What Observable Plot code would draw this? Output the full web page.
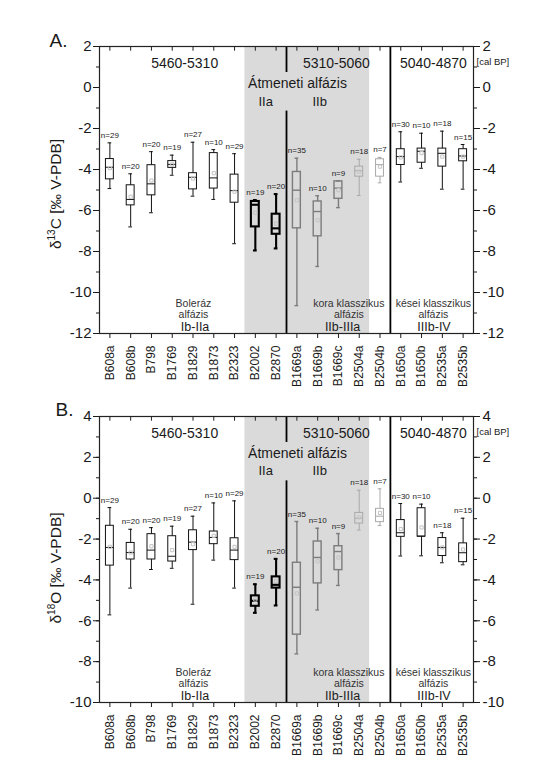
<!DOCTYPE html>
<html>
<head>
<meta charset="utf-8">
<script src="https://cdn.jsdelivr.net/npm/d3@7"></script>
<script src="https://cdn.jsdelivr.net/npm/@observablehq/plot@0.6"></script>
<style>
  body { margin: 0; background: #fff; }
  #chart { position: relative; width: 551px; height: 768px; background: #fff; }
  #chart svg { display: block; }
</style>
</head>
<body>
<div id="chart"></div>
<script>
// ---------------- DATA ----------------
const samples = ["B608a","B608b","B798","B1769","B1829","B1873","B2323","B2002","B2870",
                 "B1669a","B1669b","B1669c","B2504a","B2504b","B1650a","B1650b","B2535a","B2535b"];
const phaseGroup = ["Boleráz","Boleráz","Boleráz","Boleráz","Boleráz","Boleráz","Boleráz",
                    "IIa","IIa","IIb","IIb","IIb","kora","kora","kései","kései","kései","kései"];
const nValues = [29,20,20,19,27,10,29,19,20,35,10,9,18,7,30,10,18,15];

// δ13C (panel A)
const c13High   = [-2.70,-4.21,-3.13,-3.30,-2.67,-3.03,-3.23,-5.49,-5.20,-3.45,-5.28,-4.56,-3.50,-3.41,-2.16,-2.23,-2.13,-2.78];
const c13Q3     = [-3.49,-4.77,-3.79,-3.59,-4.18,-3.20,-4.25,-5.56,-6.18,-4.12,-5.56,-4.58,-3.86,-3.50,-3.01,-2.98,-2.98,-3.01];
const c13Median = [-3.89,-5.46,-4.70,-3.75,-4.38,-4.41,-5.03,-5.72,-6.87,-5.01,-6.05,-4.91,-4.06,-3.76,-3.37,-3.11,-3.21,-3.34];
const c13Q1     = [-4.48,-5.75,-5.26,-3.92,-4.97,-4.93,-5.62,-6.80,-7.16,-6.87,-7.26,-5.43,-4.35,-4.35,-3.78,-3.67,-3.86,-3.60];
const c13Low    = [-4.93,-6.80,-6.11,-4.28,-5.30,-5.46,-7.62,-7.95,-7.85,-10.64,-8.73,-5.86,-5.27,-4.65,-4.61,-3.94,-4.96,-4.96];
const c13Mean   = [-3.93,-5.33,-4.54,-3.75,-4.44,-4.18,-5.08,-6.11,-6.64,-5.50,-6.48,-5.01,-4.10,-3.86,-3.41,-3.20,-3.37,-3.37];

// δ18O (panel B)
const o18High   = [-0.46,-1.52,-1.44,-1.37,-0.88,-0.23,-0.13,-4.21,-2.97,-1.14,-1.47,-1.73,0.39,0.46,-0.26,-0.29,-1.69,-0.98];
const o18Q3     = [-1.35,-2.19,-1.76,-1.86,-1.57,-1.63,-1.96,-4.78,-3.85,-3.16,-2.12,-2.35,-0.72,-0.52,-1.07,-0.49,-1.95,-2.21];
const o18Median = [-2.41,-2.66,-2.54,-2.84,-2.15,-1.92,-2.54,-5.02,-4.24,-4.36,-2.90,-2.61,-0.98,-0.88,-1.69,-1.86,-2.41,-2.67];
const o18Q1     = [-3.30,-3.00,-3.00,-3.10,-2.54,-2.25,-3.03,-5.29,-4.40,-6.68,-4.17,-3.52,-1.24,-1.17,-1.89,-1.88,-2.83,-3.13];
const o18Low    = [-5.71,-4.40,-3.49,-3.43,-5.19,-3.03,-4.40,-5.61,-5.25,-7.62,-5.47,-4.27,-1.56,-1.34,-2.83,-2.82,-3.16,-3.26];
const o18Mean   = [-2.38,-2.66,-2.35,-2.54,-2.25,-1.84,-2.38,-4.96,-4.05,-4.66,-3.09,-2.90,-0.94,-0.72,-1.51,-1.43,-2.41,-2.51];

const periods = ["5460-5310", "5310-5060", "5040-4870"];
const phaseNames = ["Boleráz\nalfázis", "kora klasszikus\nalfázis", "kései klasszikus\nalfázis"];
const phaseCodes = ["Ib-IIa", "IIb-IIIa", "IIIb-IV"];
const transitionName = "Átmeneti alfázis";
const transitionSub = ["IIa", "IIb"];
const shadedFrom = "B2002", shadedTo = "B2504a";
const dividerAfter = ["B2870", "B2504b"];

// ---------------- DRAWING ----------------
const FONT = "'Liberation Sans', Arial, Helvetica, sans-serif";
const N = samples.length;
const idx = s => samples.indexOf(s);

const styles = [
  {groups: ["Boleráz", "kései"], stroke: "#111", w: 1},
  {groups: ["IIa"], stroke: "#000", w: 2.1},
  {groups: ["IIb"], stroke: "#7c7c7c", w: 1.4},
  {groups: ["kora"], stroke: "#a9a9a9", w: 1}
];

function rows(hi, q3, med, q1, lo, mean) {
  return samples.map((s, i) => ({i, s, group: phaseGroup[i], n: nValues[i],
    hi: hi[i], q3: q3[i], med: med[i], q1: q1[i], lo: lo[i], mean: mean[i]}));
}

const fmt = d => (d < 0 ? "-" + Math.abs(d) : String(d));

function panel({data, ymin, ymax, marginTop, marginBottom, letter, letterDy}) {
  const hw = 0.19, cw = 0.09;
  const boxMarks = [];
  for (const st of styles) {
    const d = data.filter(r => st.groups.includes(r.group));
    const o = {stroke: st.stroke, strokeWidth: st.w};
    boxMarks.push(
      Plot.ruleX(d, {x: "i", y1: "lo", y2: "q1", ...o}),
      Plot.ruleX(d, {x: "i", y1: "q3", y2: "hi", ...o}),
      Plot.ruleY(d, {y: "lo", x1: r => r.i - cw, x2: r => r.i + cw, ...o}),
      Plot.ruleY(d, {y: "hi", x1: r => r.i - cw, x2: r => r.i + cw, ...o}),
      Plot.rect(d, {x1: r => r.i - hw, x2: r => r.i + hw, y1: "q1", y2: "q3", fill: "none", ...o}),
      Plot.ruleY(d, {y: "med", x1: r => r.i - hw, x2: r => r.i + hw, ...o}),
      Plot.dot(d, {x: "i", y: "mean", symbol: "square", r: 1.8, fill: "none", stroke: "#c4c4c4", strokeWidth: 1})
    );
  }
  const d1 = idx(dividerAfter[0]) + 0.5, d2 = idx(dividerAfter[1]) + 0.5;
  const textCol = "#1a1a1a";
  return Plot.plot({
    width: 551, height: 384,
    marginTop, marginBottom, marginLeft: 99, marginRight: 78,
    x: {domain: [-0.5, N - 0.5], axis: null},
    y: {domain: [ymin, ymax], axis: null},
    style: {fontFamily: FONT, fontSize: "15px", color: "#1a1a1a", background: "#fff", overflow: "visible"},
    marks: [
      Plot.rect([0], {x1: idx(shadedFrom) - 0.5, x2: idx(shadedTo) + 0.5, y1: ymin, y2: ymax, fill: "#dadada"}),
      // dividers
      Plot.ruleX([d1], {y1: ymax, y2: ymax - 1.27, stroke: "#000", strokeWidth: 1.8}),
      Plot.ruleX([d1], {y1: ymax - 3.15, y2: ymin, stroke: "#000", strokeWidth: 1.8}),
      Plot.ruleX([d2], {y1: ymax, y2: ymin, stroke: "#000", strokeWidth: 1.8}),
      // axes
      Plot.axisY({anchor: "left", ticks: d3.range(ymin, ymax + 1, 2), tickSize: 6, tickPadding: 2,
        tickFormat: fmt, fontSize: 15, label: null}),
      Plot.axisY({anchor: "left", ticks: d3.range(ymin, ymax + 1, 1), tickSize: 3, tickFormat: () => "", label: null}),
      Plot.axisY({anchor: "right", ticks: d3.range(ymin, ymax + 1, 2), tickSize: 6, tickPadding: 3,
        tickFormat: fmt, fontSize: 15, label: null}),
      Plot.axisY({anchor: "right", ticks: d3.range(ymin, ymax + 1, 1), tickSize: 3, tickFormat: () => "", label: null}),
      Plot.axisX({anchor: "bottom", ticks: d3.range(N), tickFormat: i => samples[i], tickRotate: -90,
        tickSize: 5, tickPadding: 7, fontSize: 12, label: null}),
      Plot.ruleX(d3.range(N), {x: d => d, y1: ymax, y2: ymax - 0.23, stroke: "#222"}),
      Plot.frame({stroke: "#222", strokeWidth: 1.2}),
      // boxes
      ...boxMarks,
      Plot.text(data, {x: "i", y: "hi", text: d => "n=" + d.n, dy: -7.5, fontSize: 8, lineAnchor: "middle", fill: textCol}),
      // annotations
      Plot.text(periods, {x: (d, i) => [3.6, 10.9, 15.57][i], y: ymax - 0.83, text: d => d, fontSize: 14, lineAnchor: "middle", fill: textCol}),
      Plot.text([transitionName], {x: 9.03, y: ymax - 1.8, text: d => d, fontSize: 14, lineAnchor: "middle", fill: textCol}),
      Plot.text(transitionSub, {x: (d, i) => [7.5, 10.1][i], y: ymax - 2.68, text: d => d, fontSize: 13, lineAnchor: "middle", fill: textCol}),
      Plot.text(phaseNames, {x: (d, i) => [4.02, 11.5, 15.57][i], y: ymin + 1.2, text: d => d, fontSize: 10.5, lineHeight: 1.05, lineAnchor: "middle", fill: "#333"}),
      Plot.text(phaseCodes, {x: (d, i) => [4.1, 11.2, 15.6][i], y: ymin + 0.33, text: d => d, fontSize: 12.5, lineAnchor: "middle", fill: textCol}),
      Plot.text(["[cal BP]"], {frameAnchor: "top-right", dx: 3, dy: 15.5, text: d => d, textAnchor: "start", lineAnchor: "middle", fontSize: 9.5, fill: textCol}),
      Plot.text([letter], {frameAnchor: "top-left", dx: letter === "A." ? -50 : -44, dy: letterDy, text: d => d, textAnchor: "start", lineAnchor: "middle", fontSize: 19, fill: textCol})
    ]
  });
}

function addYLabel(svg, iso, cy) {
  const t = d3.select(svg).append("text")
    .attr("transform", `translate(61,${cy}) rotate(-90)`)
    .attr("text-anchor", "middle")
    .attr("font-family", FONT)
    .attr("font-size", 15.5)
    .attr("fill", "#1a1a1a");
  t.append("tspan").text("δ");
  t.append("tspan").attr("font-size", 10).attr("dy", -6).text(iso);
  t.append("tspan").attr("dy", 6).text(iso === "13" ? "C [‰ V-PDB]" : "O [‰ V-PDB]");
}

const chart = document.getElementById("chart");
const svgA = panel({data: rows(c13High, c13Q3, c13Median, c13Q1, c13Low, c13Mean),
  ymin: -12, ymax: 2, marginTop: 46, marginBottom: 51, letter: "A.", letterDy: -5.5});
addYLabel(svgA, "13", 194);
chart.appendChild(svgA);

const svgB = panel({data: rows(o18High, o18Q3, o18Median, o18Q1, o18Low, o18Mean),
  ymin: -10, ymax: 4, marginTop: 32, marginBottom: 66, letter: "B.", letterDy: -6.5});
addYLabel(svgB, "18", 184);
chart.appendChild(svgB);
</script>
</body>
</html>
